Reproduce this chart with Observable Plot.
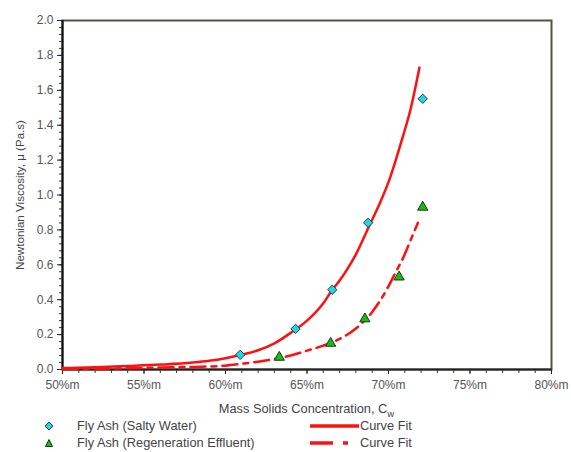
<!DOCTYPE html>
<html><head><meta charset="utf-8">
<script src="https://cdn.jsdelivr.net/npm/d3@7"></script>
<script src="https://cdn.jsdelivr.net/npm/@observablehq/plot@0.6"></script>
<style>
body{margin:0;background:#fff;font-family:"Liberation Sans",Arial,sans-serif;}
#wrap{position:relative;width:571px;height:452px;overflow:hidden;}
#xt{position:absolute;left:62px;width:489px;top:401px;text-align:center;font-size:12.8px;color:#444;}
.lg{position:absolute;font-size:12.8px;color:#444;line-height:14px;white-space:nowrap;}
.lg svg{position:absolute;}
</style></head><body>
<div id="wrap"><div id="chart"></div>
<div id="xt">Mass Solids Concentration, C<sub style="font-size:9.5px">w</sub></div>
<div id="legend"></div>
</div>
<script>
// Data
const saltyX = [60.9, 64.3, 66.55, 68.75, 72.1];
const saltyY = [0.084, 0.233, 0.457, 0.841, 1.551];
const regenX = [63.3, 66.45, 68.55, 70.65, 72.1];
const regenY = [0.07, 0.15, 0.29, 0.53, 0.93];
const fitSaltyX = [50,52,54,56,58,59,60,61,62,63,64,65,66,66.5,67,67.5,68,68.8,69.5,70.1,70.8,71.35,71.9];
const fitSaltyY = [0.008,0.013,0.02,0.028,0.04,0.05,0.065,0.085,0.11,0.15,0.21,0.28,0.38,0.45,0.51,0.58,0.66,0.82,0.96,1.10,1.31,1.49,1.73];
const fitRegenX = [50,53,56,58,60,61,62,63,64,65,66,67,68,69,69.9,70.4,70.9,71.35,71.8];
const fitRegenY = [0.003,0.006,0.011,0.015,0.022,0.033,0.045,0.06,0.08,0.108,0.137,0.175,0.235,0.33,0.46,0.55,0.64,0.74,0.84];
const xTicks = [50,55,60,65,70,75,80];
const yTicks = [0,0.2,0.4,0.6,0.8,1.0,1.2,1.4,1.6,1.8,2.0];
const legendLabels = ["Fly Ash (Salty Water)","Fly Ash (Regeneration Effluent)","Curve Fit","Curve Fit"];
const yTitle = "Newtonian Viscosity, \u03bc (Pa.s)";

const zip = (xs, ys) => xs.map((x, i) => ({x, y: ys[i]}));
const salty = zip(saltyX, saltyY), regen = zip(regenX, regenY);
const fitS = zip(fitSaltyX, fitSaltyY), fitR = zip(fitRegenX, fitRegenY);
const minorX = d3.range(50, 80.5, 1);
const minorY = d3.range(0, 2.001, 0.04);

const DASH = "15,6,5,6";
const chart = Plot.plot({
  width: 571, height: 396,
  marginLeft: 62, marginRight: 20, marginTop: 20, marginBottom: 27,
  x: {domain: [50, 80]},
  y: {domain: [0, 2]},
  style: {fontFamily: '"Liberation Sans", Arial, sans-serif', fontSize: "12px", color: "#555", background: "white"},
  marks: [
    Plot.frame({stroke: "#55553f", strokeWidth: 2}),
    Plot.axisX(minorX, {tickSize: 4, tickFormat: () => "", label: null, stroke: "#333"}),
    Plot.axisX(xTicks, {tickSize: 5, tickPadding: 6, tickFormat: d => d + "%m", label: null, stroke: "#222", fill: "#555"}),
    Plot.axisY(minorY, {tickSize: 3, tickFormat: () => "", label: null, stroke: "#333"}),
    Plot.axisY(yTicks, {tickSize: 5, tickPadding: 4, tickFormat: d3.format(".1f"), stroke: "#222", fill: "#555", label: null}),
    Plot.axisY({ticks: [], tickSize: 0, label: yTitle, labelAnchor: "center", labelOffset: 47, labelArrow: "none", fontSize: 11.6, fill: "#444"}),
    Plot.ruleX([50], {stroke: "#111", strokeWidth: 2}),
    Plot.ruleY([0], {stroke: "#222", strokeWidth: 2}),
    Plot.line(fitS, {x: "x", y: "y", stroke: "#ff1010", strokeWidth: 2.5, curve: "monotone-x"}),
    Plot.line(fitR, {x: "x", y: "y", stroke: "#ff1010", strokeWidth: 2.5, strokeDasharray: DASH, curve: "monotone-x"}),
    Plot.dot(salty, {x: "x", y: "y", symbol: "diamond2", r: 4.2, fill: "#1fd8e0", stroke: "#2a3a4a", strokeWidth: 1}),
    Plot.dot(regen, {x: "x", y: "y", symbol: "triangle", r: 3.8, fill: "#12c012", stroke: "#203020", strokeWidth: 1})
  ]
});
document.getElementById("chart").appendChild(chart);

// Legend
const lg = document.getElementById("legend");
const rows = [426, 443];
function item(x, y, svg, text, tx) {
  const d = document.createElement("div");
  d.className = "lg";
  d.style.left = x + "px"; d.style.top = (y - 7) + "px";
  d.innerHTML = svg + `<span style="position:absolute;left:${tx}px;top:0">${text}</span>`;
  lg.appendChild(d);
}
item(40, rows[0], `<svg width="18" height="14" style="left:0;top:0"><path d="M9,3L13,7L9,11L5,7Z" fill="#1fd8e0" stroke="#2a3a4a"/></svg>`, legendLabels[0], 37);
item(40, rows[1], `<svg width="18" height="14" style="left:0;top:0"><path d="M9,3.5L12.5,10.5L5.5,10.5Z" fill="#12c012" stroke="#203020"/></svg>`, legendLabels[1], 37);
item(309, rows[0], `<svg width="54" height="14" style="left:0;top:0"><line x1="1" x2="50" y1="7" y2="7" stroke="#ff1010" stroke-width="3.5"/></svg>`, legendLabels[2], 51);
item(309, rows[1], `<svg width="54" height="14" style="left:0;top:0"><line x1="1" x2="50" y1="7" y2="7" stroke="#ff1010" stroke-width="3.5" stroke-dasharray="23,10,5,20"/></svg>`, legendLabels[3], 51);
</script>
</body></html>
